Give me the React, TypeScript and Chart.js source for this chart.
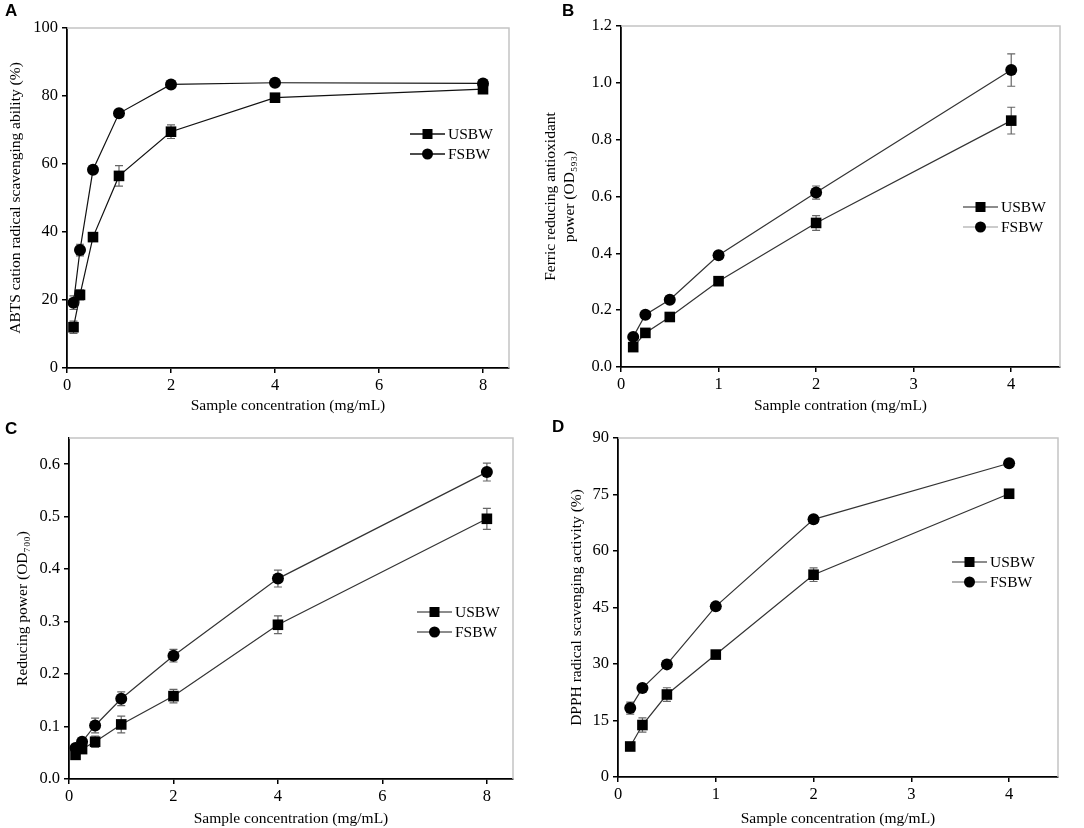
import { useEffect, useRef } from "react";
import { Chart, registerables } from "chart.js";

Chart.register(...registerables);
Chart.defaults.font.family = "'Liberation Serif', 'Times New Roman', serif";
Chart.defaults.color = "#000";

// sample concentrations (mg/mL)
const concWide = [0.125, 0.25, 0.5, 1, 2, 4, 8];
const concNarrow = [0.125, 0.25, 0.5, 1, 2, 4];

// A: ABTS cation radical scavenging ability (%)
const abtsUsbw = [12.0, 21.5, 38.5, 56.5, 69.5, 79.5, 82.0];
const abtsUsbwErr = [1.8, 1.5, 1.0, 3.0, 2.0, 0.5, 0.6];
const abtsFsbw = [19.2, 34.7, 58.3, 74.9, 83.4, 83.9, 83.7];
const abtsFsbwErr = [2.0, 1.7, 1.0, 0.8, 0.5, 0.5, 0.5];

// B: ferric reducing antioxidant power (OD593)
const frapUsbw = [0.07, 0.12, 0.176, 0.302, 0.507, 0.867];
const frapUsbwErr = [0.012, 0.008, 0.008, 0.012, 0.026, 0.047];
const frapFsbw = [0.106, 0.184, 0.237, 0.393, 0.614, 1.045];
const frapFsbwErr = [0.008, 0.01, 0.008, 0.012, 0.023, 0.057];

// C: reducing power (OD700)
const rpUsbw = [0.046, 0.057, 0.071, 0.104, 0.158, 0.294, 0.496];
const rpUsbwErr = [0.004, 0.005, 0.011, 0.016, 0.013, 0.017, 0.02];
const rpFsbw = [0.059, 0.071, 0.102, 0.153, 0.235, 0.382, 0.585];
const rpFsbwErr = [0.004, 0.005, 0.014, 0.013, 0.012, 0.016, 0.017];

// D: DPPH radical scavenging activity (%)
const dpphUsbw = [8.1, 13.8, 21.9, 32.5, 53.7, 75.2];
const dpphUsbwErr = [0.6, 1.9, 1.8, 0.6, 1.8, 0.6];
const dpphFsbw = [18.3, 23.6, 29.9, 45.3, 68.4, 83.3];
const dpphFsbwErr = [1.6, 0.6, 0.6, 0.5, 1.0, 0.5];

const seriesNames = ["USBW", "FSBW"];

const errorBars = {
  id: "errorBars",
  beforeDatasetsDraw(chart: any, _a: any, opts: any) {
    const { ctx } = chart;
    const x = chart.scales.x;
    const y = chart.scales.y;
    ctx.save();
    ctx.strokeStyle = "#666";
    ctx.lineWidth = 1.2;
    chart.data.datasets.forEach((ds: any, i: number) => {
      const errs = opts.errors?.[i];
      if (!errs) return;
      ds.data.forEach((pt: any, j: number) => {
        const px = x.getPixelForValue(pt.x);
        const t = y.getPixelForValue(pt.y + errs[j]);
        const b = y.getPixelForValue(pt.y - errs[j]);
        ctx.beginPath();
        ctx.moveTo(px, t);
        ctx.lineTo(px, b);
        ctx.moveTo(px - 4, t);
        ctx.lineTo(px + 4, t);
        ctx.moveTo(px - 4, b);
        ctx.lineTo(px + 4, b);
        ctx.stroke();
      });
    });
    ctx.restore();
  },
};

const frame = {
  id: "frame",
  beforeDatasetsDraw(chart: any) {
    const { ctx, chartArea: a } = chart;
    ctx.save();
    ctx.strokeStyle = "#c4c4c4";
    ctx.lineWidth = 1.5;
    ctx.beginPath();
    ctx.moveTo(a.left, a.top);
    ctx.lineTo(a.right, a.top);
    ctx.lineTo(a.right, a.bottom);
    ctx.stroke();
    ctx.restore();
  },
};

const lineLegend = {
  id: "lineLegend",
  afterDraw(chart: any, _a: any, opts: any) {
    const { ctx, chartArea: a } = chart;
    ctx.save();
    ctx.font = "15.5px 'Liberation Serif', 'Times New Roman', serif";
    ctx.textBaseline = "middle";
    chart.data.datasets.forEach((ds: any, i: number) => {
      const x0 = a.right - opts.right;
      const y0 = a.top + opts.top + i * 20;
      const len = 35;
      ctx.strokeStyle = opts.lineColors[i];
      ctx.lineWidth = 1.5;
      ctx.beginPath();
      ctx.moveTo(x0, y0);
      ctx.lineTo(x0 + len, y0);
      ctx.stroke();
      ctx.fillStyle = "#000";
      const cx = x0 + len / 2;
      if (ds.pointStyle === "rect") {
        ctx.fillRect(cx - 5, y0 - 5, 10, 10);
      } else {
        ctx.beginPath();
        ctx.arc(cx, y0, 5.5, 0, Math.PI * 2);
        ctx.fill();
      }
      ctx.fillText(ds.label, x0 + len + 3, y0 + 1);
    });
    ctx.restore();
  },
};

type PanelProps = {
  tag: string;
  left: number;
  top: number;
  width: number;
  height: number;
  xs: number[];
  usbw: number[];
  usbwErr: number[];
  fsbw: number[];
  fsbwErr: number[];
  xMax: number;
  xStep: number;
  yMin: number;
  yMax: number;
  yStep: number;
  yDecimals: number;
  xTitle: string;
  yTitle: string | string[];
  yTitlePad: number;
  pad: { top: number; right: number };
  yWidth: number;
  xHeight: number;
  legend: { right: number; top: number; lineColors: string[] };
  lineColor: string;
  tagTop: number;
  tagLeft: number;
};

function Panel(p: PanelProps) {
  const canvasRef = useRef<HTMLCanvasElement>(null);

  useEffect(() => {
    if (!canvasRef.current) return;
    const toPts = (vals: number[]) => vals.map((v, i) => ({ x: p.xs[i], y: v }));
    const chart = new Chart(canvasRef.current, {
      type: "line",
      data: {
        datasets: [
          {
            label: seriesNames[0],
            data: toPts(p.usbw),
            borderColor: p.lineColor,
            borderWidth: 1.2,
            pointStyle: "rect",
            pointRadius: 7.5,
            pointBackgroundColor: "#000",
            pointBorderColor: "#000",
            pointBorderWidth: 0,
          },
          {
            label: seriesNames[1],
            data: toPts(p.fsbw),
            borderColor: p.lineColor,
            borderWidth: 1.2,
            pointStyle: "circle",
            pointRadius: 6,
            pointBackgroundColor: "#000",
            pointBorderColor: "#000",
            pointBorderWidth: 0,
          },
        ],
      },
      options: {
        animation: false,
        responsive: false,
        layout: { padding: { top: p.pad.top, right: p.pad.right, left: 0, bottom: 0 } },
        plugins: {
          legend: { display: false },
          tooltip: { enabled: false },
          errorBars: { errors: [p.usbwErr, p.fsbwErr] },
          lineLegend: p.legend,
        } as any,
        scales: {
          x: {
            type: "linear",
            min: 0,
            max: p.xMax,
            grid: { drawOnChartArea: false, drawTicks: true, tickLength: 5, color: "#000", lineWidth: 1.5 },
            border: { color: "#000", width: 1.8 },
            ticks: { stepSize: p.xStep, includeBounds: false, padding: 3, font: { size: 16.5 } },
            title: { display: true, text: p.xTitle, font: { size: 15.5 }, padding: { top: 0, bottom: 0 } },
            afterFit: (s: any) => {
              s.height = p.xHeight;
            },
          },
          y: {
            type: "linear",
            min: p.yMin,
            max: p.yMax,
            grid: { drawOnChartArea: false, drawTicks: true, tickLength: 5, color: "#000", lineWidth: 1.5 },
            border: { color: "#000", width: 1.8 },
            ticks: {
              stepSize: p.yStep,
              includeBounds: false,
              padding: 4,
              font: { size: 16.5 },
              callback: (v: any) => Number(v).toFixed(p.yDecimals),
            },
            title: { display: true, text: p.yTitle, font: { size: 15.5 }, padding: { top: p.yTitlePad, bottom: 0 } },
            afterFit: (s: any) => {
              s.width = p.yWidth;
            },
          },
        },
      },
      plugins: [errorBars, frame, lineLegend],
    });
    return () => chart.destroy();
  }, []);

  return (
    <div style={{ position: "absolute", left: p.left, top: p.top, width: p.width, height: p.height }}>
      <canvas ref={canvasRef} width={p.width} height={p.height} />
      <div
        style={{
          position: "absolute",
          left: p.tagLeft,
          top: p.tagTop,
          font: "bold 17px 'Liberation Sans', Arial, sans-serif",
        }}
      >
        {p.tag}
      </div>
    </div>
  );
}

export default function App() {
  return (
    <div style={{ position: "absolute", left: 0, top: 0, width: 1084, height: 828, background: "#fff" }}>
      <Panel
        tag="A"
        tagLeft={5}
        tagTop={1}
        left={0}
        top={0}
        width={542}
        height={415}
        xs={concWide}
        usbw={abtsUsbw}
        usbwErr={abtsUsbwErr}
        fsbw={abtsFsbw}
        fsbwErr={abtsFsbwErr}
        xMax={8.5}
        xStep={2}
        yMin={0}
        yMax={100}
        yStep={20}
        yDecimals={0}
        xTitle="Sample concentration (mg/mL)"
        yTitle="ABTS cation radical scavenging ability (%)"
        yTitlePad={7}
        pad={{ top: 28, right: 33 }}
        yWidth={67}
        xHeight={47}
        legend={{ right: 99, top: 106, lineColors: ["#111", "#111"] }}
        lineColor="#111"
      />
      <Panel
        tag="B"
        tagLeft={20}
        tagTop={1}
        left={542}
        top={0}
        width={542}
        height={415}
        xs={concNarrow}
        usbw={frapUsbw}
        usbwErr={frapUsbwErr}
        fsbw={frapFsbw}
        fsbwErr={frapFsbwErr}
        xMax={4.5}
        xStep={1}
        yMin={0}
        yMax={1.2}
        yStep={0.2}
        yDecimals={1}
        xTitle="Sample contration (mg/mL)"
        yTitle={["Ferric reducing antioxidant", "power (OD₅₉₃)"]}
        yTitlePad={0}
        pad={{ top: 26, right: 24 }}
        yWidth={79}
        xHeight={48}
        legend={{ right: 97, top: 181, lineColors: ["#666", "#bbb"] }}
        lineColor="#333"
      />
      <Panel
        tag="C"
        tagLeft={5}
        tagTop={4}
        left={0}
        top={415}
        width={542}
        height={413}
        xs={concWide}
        usbw={rpUsbw}
        usbwErr={rpUsbwErr}
        fsbw={rpFsbw}
        fsbwErr={rpFsbwErr}
        xMax={8.5}
        xStep={2}
        yMin={0}
        yMax={0.65}
        yStep={0.1}
        yDecimals={1}
        xTitle="Sample concentration (mg/mL)"
        yTitle="Reducing power (OD₇₀₀)"
        yTitlePad={14}
        pad={{ top: 23, right: 29 }}
        yWidth={69}
        xHeight={49}
        legend={{ right: 96, top: 174, lineColors: ["#666", "#666"] }}
        lineColor="#333"
      />
      <Panel
        tag="D"
        tagLeft={10}
        tagTop={2}
        left={542}
        top={415}
        width={542}
        height={413}
        xs={concNarrow}
        usbw={dpphUsbw}
        usbwErr={dpphUsbwErr}
        fsbw={dpphFsbw}
        fsbwErr={dpphFsbwErr}
        xMax={4.5}
        xStep={1}
        yMin={0}
        yMax={90}
        yStep={15}
        yDecimals={0}
        xTitle="Sample concentration (mg/mL)"
        yTitle="DPPH radical scavenging activity (%)"
        yTitlePad={26}
        pad={{ top: 23, right: 26 }}
        yWidth={76}
        xHeight={51}
        legend={{ right: 106, top: 124, lineColors: ["#666", "#999"] }}
        lineColor="#333"
      />
    </div>
  );
}
